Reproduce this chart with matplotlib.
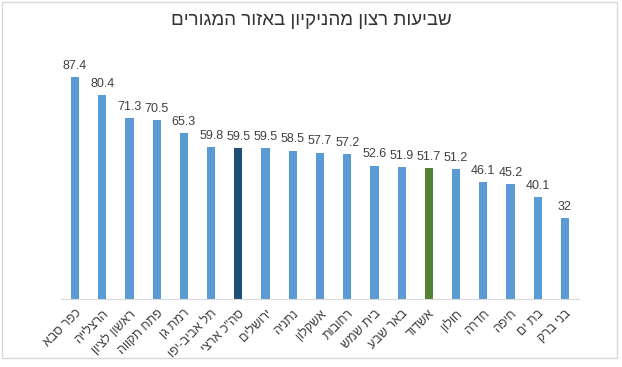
import matplotlib
matplotlib.use('Agg')
import matplotlib.pyplot as plt
from matplotlib.patches import Rectangle

plt.rcParams['font.family'] = ['Liberation Sans', 'DejaVu Sans']

# data
cities = ['כפר סבא', 'הרצלייה', 'ראשון לציון', 'פתח תקווה', 'רמת גן', 'תל אביב-יפו',
          'סה"כ ארצי', 'ירושלים', 'נתניה', 'אשקלון', 'רחובות', 'בית שמש', 'באר שבע',
          'אשדוד', 'חולון', 'חדרה', 'חיפה', 'בת ים', 'בני ברק']
values = [87.4, 80.4, 71.3, 70.5, 65.3, 59.8, 59.5, 59.5, 58.5, 57.7, 57.2, 52.6,
          51.9, 51.7, 51.2, 46.1, 45.2, 40.1, 32]
value_text = ['87.4', '80.4', '71.3', '70.5', '65.3', '59.8', '59.5', '59.5', '58.5',
              '57.7', '57.2', '52.6', '51.9', '51.7', '51.2', '46.1', '45.2', '40.1', '32']
title = 'שביעות רצון מהניקיון באזור המגורים'


def rtl(s):
    # matplotlib has no bidi support, so flip hebrew strings by hand
    return s[::-1]


def main():
    fig = plt.figure(figsize=(6.22, 3.67), dpi=100)
    ax = fig.add_axes([0.0987, 0.185, 0.8315, 0.692])

    colors = []
    for c in cities:
        if c == 'סה"כ ארצי':
            colors.append('#1F4E79')
        elif c == 'אשדוד':
            colors.append('#548235')
        else:
            colors.append('#5B9BD5')

    x = list(range(len(cities)))
    ax.bar(x, values, width=0.3, color=colors)

    for i in x:
        ax.text(i, values[i] + 2.0, value_text[i], ha='center', va='bottom',
                fontsize=9, color='#404040')

    ax.set_xlim(-0.5, len(cities) - 0.5)
    ax.set_ylim(0, 100)
    ax.set_xticks(x)
    ax.set_xticklabels([rtl(c) for c in cities], rotation=45, ha='right',
                       rotation_mode='anchor', fontsize=9, color='#404040')
    ax.tick_params(axis='x', length=0, pad=6)
    ax.set_yticks([])
    for side in ['top', 'right', 'left']:
        ax.spines[side].set_visible(False)
    ax.spines['bottom'].set_color('#D9D9D9')

    fig.text(0.5, 0.945, rtl(title), ha='center', va='center', fontsize=13.5,
             color='#333333')

    # thin frame round the whole chart area
    fig.patches.append(Rectangle((0.004, 0.025), 0.988, 0.97, transform=fig.transFigure,
                                 fill=False, edgecolor='#D9D9D9', linewidth=1))

    fig.savefig('out.png', dpi=100)


if __name__ == '__main__':
    main()
